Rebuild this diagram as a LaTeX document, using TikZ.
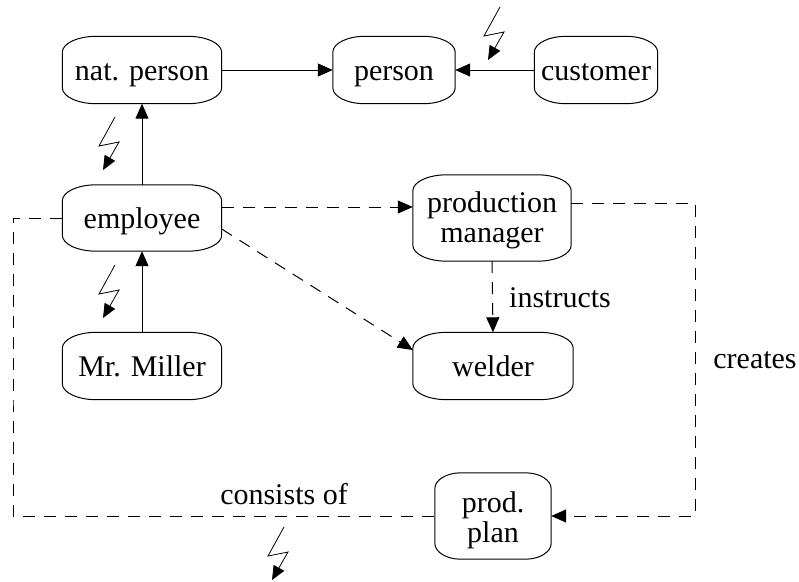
\documentclass[tikz,border=0pt]{standalone}
\usepackage{fontspec}
\setmainfont{Liberation Serif}
\usetikzlibrary{arrows.meta}
\tikzset{
  box/.style={inner sep=0pt, align=center, font=\fontsize{30}{30}\selectfont},
  oneline/.style={text height=27pt, text depth=7pt},
  lbl/.style={inner sep=0pt, font=\fontsize{30}{30}\selectfont},
  conn/.style={line width=1pt, -{Triangle[length=15pt,width=13pt]}},
  plain/.style={line width=1pt},
  dsh/.style={dash pattern=on 12pt off 9pt},
  bolt/.style={line width=0.8pt, -{Triangle[length=14pt,width=12pt]}}
}
\begin{document}
\begin{tikzpicture}[x=1pt,y=-1pt]
\useasboundingbox (0,0) rectangle (799,581);

% entity boxes
\node[box, oneline, minimum width=159pt, minimum height=67pt] (np) at (142,70) {nat. person};
\node[box, oneline, minimum width=122pt, minimum height=67pt] (p)  at (394,70) {person};
\node[box, oneline, minimum width=123pt, minimum height=67pt] (cu) at (596,70) {customer};
\node[box, oneline, minimum width=159pt, minimum height=66pt] (em) at (142,218) {employee};
\node[box, minimum width=158pt, minimum height=86pt] (pm) at (492,218) {\rule{0pt}{24.5pt}production\\manager};
\node[box, oneline, minimum width=160pt, minimum height=67pt] (wd) at (493,366) {welder};
\node[box, oneline, minimum width=159pt, minimum height=67pt] (mm) at (142,366) {Mr. Miller};
\node[box, minimum width=116pt, minimum height=86pt] (pp) at (493,516) {\rule{0pt}{30pt}prod.\\plan};

% outlines with elliptical corners
\foreach \n/\rx in {np/34,p/32,cu/32,em/34,pm/34,wd/34,mm/34,pp/26}{
  \draw[line width=1pt]
    ([xshift=\rx pt]\n.north west) -- ([xshift=-\rx pt]\n.north east)
    arc[start angle=90, end angle=0, x radius=\rx pt, y radius=16pt]
    -- ([yshift=16pt]\n.south east)
    arc[start angle=0, end angle=-90, x radius=\rx pt, y radius=16pt]
    -- ([xshift=\rx pt]\n.south west)
    arc[start angle=270, end angle=180, x radius=\rx pt, y radius=16pt]
    -- ([yshift=-16pt]\n.north west)
    arc[start angle=180, end angle=90, x radius=\rx pt, y radius=16pt]
    -- cycle;
}

% generalisation arrows
\draw[conn] (np.east) -- (p.west);
\draw[conn] (cu.west) -- (p.east);
\draw[conn] (em.north) -- (np.south);
\draw[conn] (mm.north) -- (em.south);

% associations
\draw[conn,dsh] ([yshift=11pt]em.east) -- ([yshift=11pt]pm.west);
\draw[conn,dsh] ([yshift=-11pt]em.east) -- ([yshift=16pt]wd.west);
\draw[conn,dsh] (pm.south) -- (wd.north);
\node[lbl] (instr) at (560,298) {instructs};

\coordinate (cr) at (695,360);
\draw[conn,dsh] ([yshift=15pt]pm.east) -| (cr) |- (pp.east);
\node[lbl] (creates) at (755,360) {creates};

\coordinate (cl) at (13,400);
\draw[plain,dsh] (em.west) -| (cl) |- (pp.west);
\node[lbl] (cons) at (284,494) {consists of};

% lightning markers
\draw[bolt] (500,7) -- (484,36) -- (504,32) -- (488,60);
\draw[bolt] (115,117) -- (99,146) -- (119,142) -- (103,170);
\draw[bolt] (115,265) -- (99,294) -- (119,290) -- (103,318);
\draw[bolt] (284,527) -- (268,556) -- (288,552) -- (272,580);
\end{tikzpicture}
\end{document}
